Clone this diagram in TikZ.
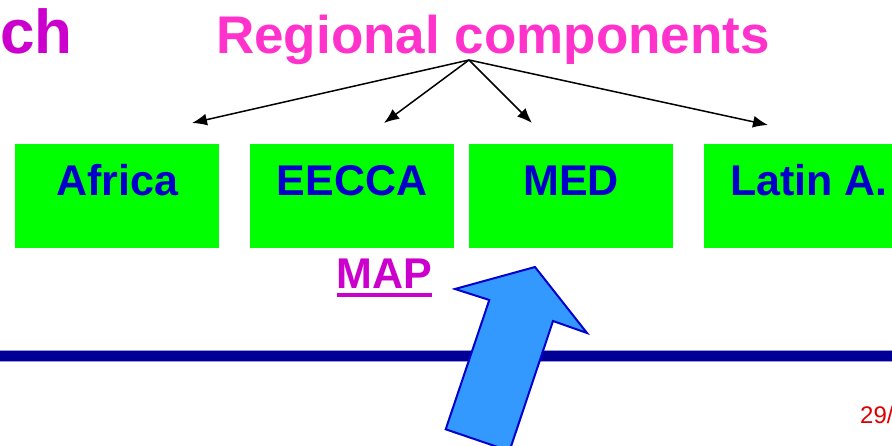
\documentclass[tikz,border=0pt]{standalone}
\usepackage{fontspec}
\setmainfont{Liberation Sans}
\usetikzlibrary{arrows.meta}
\definecolor{titlemag}{HTML}{CC00CC}
\definecolor{regpink}{HTML}{FF33CC}
\definecolor{boxgreen}{HTML}{00FF00}
\definecolor{boxblue}{HTML}{0000CC}
\definecolor{linenavy}{HTML}{000099}
\definecolor{arrowfill}{HTML}{3399FF}
\definecolor{pagered}{HTML}{DD0000}
\tikzset{
  regbox/.style={fill=boxgreen, draw=none, minimum width=204pt, minimum height=104pt, inner sep=0pt},
  regtext/.style={anchor=base, inner sep=0pt, text=boxblue, font=\bfseries\fontsize{43}{43}\selectfont},
  fanarrow/.style={-{Latex[length=15pt,width=12pt]}, line width=1.5pt, black}
}
\begin{document}
\begin{tikzpicture}[x=1pt,y=-1pt]
\useasboundingbox (0,0) rectangle (892,446);
\clip (0,0) rectangle (892,446);
% titles
\node[anchor=base west, inner sep=0pt, text=titlemag, font=\bfseries\fontsize{62}{62}\selectfont] (title) at (0,54) {ch};
\node[anchor=base west, inner sep=0pt, text=regpink, font=\bfseries\fontsize{53}{53}\selectfont] (regional) at (216,54) {Regional components};
% boxes
\node[regbox] (africa) at (117,196) {};
\node[regbox] (eecca) at (352,196) {};
\node[regbox] (med) at (571,196) {};
\node[regbox] (latin) at (806,196) {};
\node[regtext] (africaT) at (africa.center) {Africa};
\node[regtext] (eeccaT) at (eecca.center) {EECCA};
\node[regtext] (medT) at (med.center) {MED};
\node[regtext, anchor=base west] (latinT) at (730,196) {Latin A.};
% fan arrows
\coordinate (root) at (469,60);
\coordinate (e1) at (192,123);
\coordinate (e2) at (384,123);
\coordinate (e3) at (532,123);
\coordinate (e4) at (768,125);
\draw[fanarrow] (root) -- (e1);
\draw[fanarrow] (root) -- (e2);
\draw[fanarrow] (root) -- (e3);
\draw[fanarrow] (root) -- (e4);
% MAP
\node[anchor=base west, inner sep=0pt, text=titlemag, font=\bfseries\fontsize{43}{43}\selectfont] (map) at (336,289) {MAP};
\fill[titlemag] (337,293) rectangle (432,297);
% horizontal rule
\fill[linenavy] (0,351) rectangle (892,361);
\draw[linenavy!40, line width=0.6pt] (0,350.5) -- (892,350.5) (0,361.5) -- (892,361.5);
% big arrow
\draw[fill=arrowfill, draw=boxblue, line width=2pt, line join=miter]
  (535,267) -- (587,333) -- (553,321) -- (509.5,451) -- (445.7,429.3) -- (489.3,300) -- (455,289) -- cycle;
% page number
\node[anchor=base west, inner sep=0pt, text=pagered, font=\fontsize{24}{24}\selectfont] (page) at (860,423) {29/};
\end{tikzpicture}
\end{document}
